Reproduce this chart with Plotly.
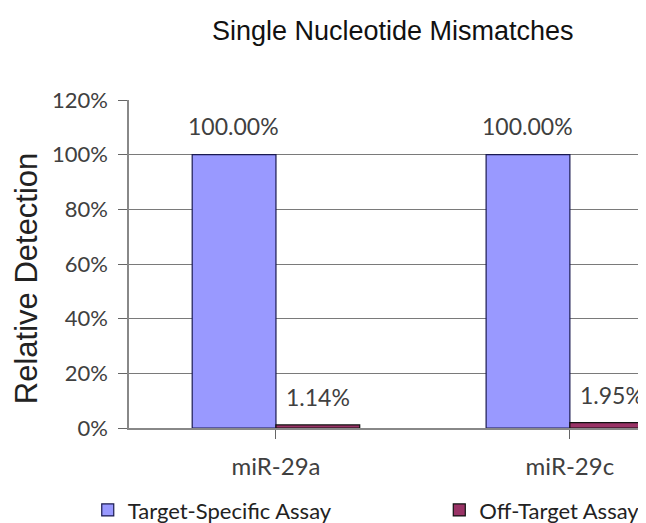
import plotly.graph_objects as go

categories = ["miR-29a", "miR-29c"]
target_specific = [1.0, 1.0]
off_target = [0.0114, 0.0195]
target_labels = ["100.00%", "100.00%"]
off_labels = ["1.14%", "1.95%"]
y_ticks = [0, 0.2, 0.4, 0.6, 0.8, 1.0, 1.2]
y_tick_text = ["0%", "20%", "40%", "60%", "80%", "100%", "120%"]

LATO = "Lato, Open Sans, sans-serif"
ARIAL = "Liberation Sans, Arial, sans-serif"
lab_font = dict(family=LATO, size=23, color="#404040")
cat_font = dict(family=LATO, size=24, color="#404040")
tick_font = dict(family=LATO, size=22, color="#404040")

fig = go.Figure()
fig.add_trace(go.Bar(
    name="Target-Specific Assay", x=[0, 1], y=target_specific,
    marker=dict(color="#9999FF", line=dict(color="#1a1a50", width=1.2)),
    legend="legend",
))
fig.add_trace(go.Bar(
    name="Off-Target Assay", x=[0, 1], y=off_target,
    marker=dict(color="#993366", line=dict(color="#111111", width=1.2)),
    legend="legend2",
))

half = 0.143
for i in range(len(categories)):
    fig.add_annotation(x=i - half, y=target_specific[i], text=target_labels[i],
                       showarrow=False, yanchor="middle", yshift=29, font=lab_font)
    fig.add_annotation(x=i + half, y=off_target[i], text=off_labels[i],
                       showarrow=False, yanchor="middle", yshift=28, font=lab_font)

# y-axis title
fig.add_annotation(text="Relative Detection", xref="paper", yref="paper",
                   x=-0.199, y=0.457, xanchor="center", yanchor="middle",
                   textangle=-90, showarrow=False,
                   font=dict(family=ARIAL, size=31, color="#222"))

leg_font = dict(family=LATO, size=22, color="#222")
fig.update_layout(
    width=638, height=515,
    margin=dict(l=121, r=0, t=92, b=95, autoexpand=False),
    paper_bgcolor="white", plot_bgcolor="white",
    barmode="group", bargap=0.43, bargroupgap=0,
    title=dict(text="Single Nucleotide Mismatches", x=0.603, xanchor="center",
               y=0.957, yanchor="middle",
               font=dict(family=ARIAL, size=27, color="#111")),
    showlegend=True,
    legend=dict(orientation="h", xref="container", yref="container",
                x=0.125, xanchor="left", y=0.025, yanchor="middle", font=leg_font),
    legend2=dict(orientation="h", xref="container", yref="container",
                 x=0.676, xanchor="left", y=0.025, yanchor="middle", font=leg_font),
    xaxis=dict(
        tickmode="array", tickvals=[0, 1], ticktext=categories,
        range=[-0.5, 1.259], tickson="boundaries", ticks="outside", ticklen=9,
        tickcolor="#666", showline=True, linecolor="#888", linewidth=1.5,
        showgrid=False, ticklabelstandoff=7, tickfont=cat_font, zeroline=False,
        automargin=False,
    ),
    yaxis=dict(
        range=[0, 1.2], tickvals=y_ticks, ticktext=y_tick_text,
        ticks="outside", ticklen=9, tickcolor="#666",
        showline=True, linecolor="#888", linewidth=1.5,
        showgrid=True, gridcolor="#7a7a7a", gridwidth=1.2, zeroline=False,
        tickfont=tick_font, ticklabelstandoff=6, automargin=False,
    ),
)

fig.write_html("out.html")
